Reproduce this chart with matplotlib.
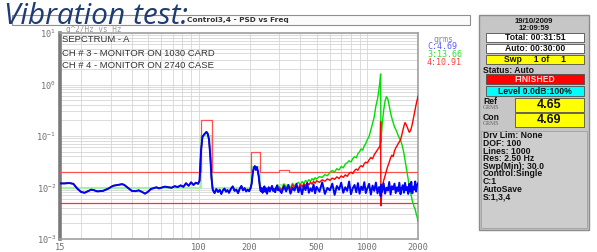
import numpy as np
import matplotlib
matplotlib.use('Agg')
import matplotlib.pyplot as plt
from matplotlib.patches import Rectangle
from matplotlib.ticker import LogLocator, NullFormatter, FixedLocator, FixedFormatter

# PSD readings (g^2/Hz) - all three channels overlap below 300 Hz
freq_low = [15, 16, 17, 18, 19, 20, 21, 22, 23, 24, 25, 27, 29, 31, 33, 35, 36, 38, 40, 42,
            44, 46, 48, 50, 52, 54, 56, 58, 60, 63, 66, 69, 72, 75, 78, 81, 84, 87, 90, 93,
            96, 99, 101, 103, 105, 107, 109, 111, 113, 115, 117, 119, 121, 124, 127, 130, 133, 136, 139, 142,
            145, 148, 151, 155, 159, 163, 167, 171, 175, 179, 183, 187, 191, 195, 199, 203, 206, 209, 212, 215,
            218, 221, 224, 227, 230, 233, 236, 239, 242, 245, 248, 251, 254, 257, 260, 264, 268, 272, 276, 280,
            284, 288, 292, 296]
psd_low = [0.012, 0.012, 0.0122, 0.0118, 0.0095, 0.0082, 0.0079, 0.0085, 0.0091, 0.0088, 0.0084, 0.0086, 0.0095, 0.0108, 0.0112, 0.0116, 0.0113, 0.0098, 0.0086, 0.0085,
           0.0088, 0.0082, 0.0076, 0.0083, 0.0094, 0.0097, 0.0101, 0.0096, 0.0099, 0.0104, 0.0101, 0.0099, 0.0106, 0.0102, 0.0110, 0.0103, 0.0121, 0.0108, 0.0126, 0.0112,
           0.0124, 0.0118, 0.0135, 0.05, 0.095, 0.105, 0.112, 0.12, 0.11, 0.085, 0.04, 0.015, 0.009, 0.0078, 0.0093, 0.0082, 0.0090, 0.0075, 0.0088, 0.0095,
           0.0083, 0.0089, 0.0079, 0.0094, 0.0105, 0.0086, 0.0091, 0.0078, 0.0095, 0.0107, 0.0088, 0.0097, 0.0084, 0.0091, 0.0085, 0.0098, 0.012, 0.019, 0.024, 0.026,
           0.022, 0.025, 0.021, 0.016, 0.011, 0.0085, 0.0098, 0.0079, 0.0093, 0.0105, 0.0083, 0.0096, 0.0076, 0.0089, 0.0101, 0.0084, 0.0095, 0.0107, 0.0086, 0.0093,
           0.0081, 0.0099, 0.0110, 0.0088]

freq_high = [300, 310, 320, 330, 340, 350, 360, 370, 380, 390, 400, 410, 420, 430, 440, 450, 460, 470, 480, 490,
             500, 520, 540, 560, 580, 600, 620, 640, 660, 680, 700, 720, 740, 760, 780, 800, 820, 840, 860, 880,
             900, 920, 940, 960, 980,
             1000, 1025, 1050, 1075, 1100, 1125, 1150, 1175, 1190, 1200, 1205,
             1225, 1250, 1275, 1300, 1325, 1350, 1375, 1400, 1425, 1450, 1475, 1500, 1525, 1550, 1575, 1600,
             1625, 1650, 1675, 1700, 1725, 1750, 1775, 1800, 1825, 1850, 1875, 1900, 1925, 1950, 1975, 2000]
ctrl_high = [0.0091, 0.0078, 0.0105, 0.0084, 0.0112, 0.0076, 0.0098, 0.0087, 0.0118, 0.0081, 0.0102, 0.0074, 0.0109, 0.0089, 0.0121, 0.0079, 0.0096, 0.0085, 0.0114, 0.0077,
             0.0103, 0.0083, 0.0126, 0.0075, 0.0098, 0.0088, 0.0119, 0.0072, 0.0107, 0.0091, 0.0124, 0.0079, 0.0101, 0.0086, 0.0131, 0.0074, 0.0097, 0.0112, 0.0081, 0.0122,
             0.0076, 0.0104, 0.0089, 0.0127, 0.0078,
             0.0095, 0.0118, 0.0073, 0.0109, 0.0086, 0.0125, 0.0077, 0.0102, 0.0091, 0.0068, 0.0114,
             0.0082, 0.0121, 0.0076, 0.0099, 0.0087, 0.0128, 0.0073, 0.0106, 0.0092, 0.0119, 0.0078, 0.0101, 0.0085, 0.0124, 0.0074, 0.0097,
             0.0111, 0.0079, 0.0123, 0.0088, 0.0102, 0.0075, 0.0118, 0.0083, 0.0129, 0.0077, 0.0104, 0.0091, 0.0131, 0.0084, 0.0112, 0.0121]
ch3_high = [0.0105, 0.0092, 0.0118, 0.0101, 0.0112, 0.0098, 0.0121, 0.0107, 0.0118, 0.0126, 0.0112, 0.0131, 0.0119, 0.0137, 0.0128, 0.0142, 0.0131, 0.0149, 0.0138, 0.0155,
            0.0146, 0.0163, 0.0157, 0.0178, 0.0169, 0.0197, 0.0214, 0.0201, 0.0232, 0.0219, 0.0256, 0.0241, 0.0284, 0.0302, 0.0331, 0.0312, 0.0365, 0.0396, 0.0378, 0.0452,
            0.0497, 0.0561, 0.0532, 0.0648, 0.0712,
            0.0845, 0.0986, 0.131, 0.178, 0.236, 0.385, 0.52, 0.84, 1.2, 1.6, 0.075,
            0.16, 0.31, 0.48, 0.58, 0.52, 0.39, 0.28, 0.22, 0.18, 0.15, 0.135, 0.118, 0.102, 0.091, 0.082, 0.071,
            0.058, 0.046, 0.034, 0.026, 0.019, 0.014, 0.0105, 0.0082, 0.0069, 0.0055, 0.0048, 0.0041, 0.0038, 0.0031, 0.0027, 0.0022]
ch4_high = [0.0098, 0.0088, 0.0112, 0.0095, 0.0106, 0.0091, 0.0113, 0.0099, 0.0108, 0.0097, 0.0115, 0.0103, 0.0119, 0.0108, 0.0124, 0.0112, 0.0127, 0.0116, 0.0131, 0.0121,
            0.0135, 0.0126, 0.0141, 0.0132, 0.0147, 0.0138, 0.0152, 0.0144, 0.0161, 0.0149, 0.0168, 0.0157, 0.0176, 0.0165, 0.0187, 0.0198, 0.0186, 0.0214, 0.0228, 0.0216,
            0.0249, 0.0265, 0.0252, 0.0291, 0.0312,
            0.0298, 0.0345, 0.0381, 0.0362, 0.0432, 0.0486, 0.0541, 0.0598, 0.065, 0.19, 0.0044,
            0.0098, 0.0135, 0.0168, 0.0215, 0.0262, 0.0311, 0.0378, 0.0425, 0.0396, 0.0512, 0.0586, 0.0641, 0.0712, 0.0768, 0.0845, 0.102,
            0.128, 0.156, 0.182, 0.168, 0.149, 0.132, 0.118, 0.125, 0.142, 0.171, 0.215, 0.268, 0.331, 0.412, 0.498, 0.59]

# reference profile and abort limits
ref_freq = [15, 103, 103, 120, 120, 205, 205, 232, 232, 300, 300, 345, 345, 2000]
ref_level = [0.01, 0.01, 0.1, 0.1, 0.01, 0.01, 0.025, 0.025, 0.01, 0.01, 0.011, 0.011, 0.01, 0.01]
abort_hi = [0.02, 0.02, 0.2, 0.2, 0.02, 0.02, 0.05, 0.05, 0.02, 0.02, 0.022, 0.022, 0.02, 0.02]
abort_lo = 0.005

x_ticks = [15, 100, 200, 500, 1000, 2000]

legend_rows = [('grms', '#8a8a8a'), ('C:4.69', '#5a5aff'), ('3:13.66', '#33dd33'), ('4:10.91', '#ff4040')]
plot_notes = ['SEPCTRUM - A', 'CH # 3 - MONITOR ON 1030 CARD', 'CH # 4 - MONITOR ON 2740 CASE']
info_lines = ['Drv Lim: None', 'DOF: 100', 'Lines: 1000', 'Res: 2.50 Hz', 'Swp(Min): 30.0',
              'Control:Single', 'C:1', 'AutoSave', 'S:1,3,4']

W, H = 597, 252


def fx(x):
    return x / W


def fy(y):
    return 1 - y / H


fig = plt.figure(figsize=(W / 100, H / 100), dpi=100)
fig.patch.set_facecolor('white')

ax = fig.add_axes([fx(60), fy(239), fx(418) - fx(60), fy(33) - fy(239)])
ax.set_xscale('log')
ax.set_yscale('log')

ax.plot(ref_freq, ref_level, color='#a8f0a8', lw=1.6, zorder=2)
ax.plot(ref_freq, abort_hi, color='#ff5050', lw=0.9, zorder=3)
ax.axhline(abort_lo, color='#ff3030', lw=0.9, zorder=3)

ax.plot(freq_low + freq_high, psd_low + ch3_high, color='#00dd00', lw=1.0, zorder=4)
ax.plot(freq_low + freq_high, psd_low + ch4_high, color='#ff0000', lw=1.0, zorder=5)
ax.plot(freq_low + freq_high, psd_low + ctrl_high, color='#0000ff', lw=1.4, zorder=6)

ax.set_xlim(15, 2000)
ax.set_ylim(1e-3, 1e1)
ax.xaxis.set_major_locator(FixedLocator(x_ticks))
ax.xaxis.set_major_formatter(FixedFormatter([str(v) for v in x_ticks]))
ax.xaxis.set_minor_locator(LogLocator(base=10, subs=np.arange(2, 10)))
ax.xaxis.set_minor_formatter(NullFormatter())
ax.yaxis.set_major_locator(LogLocator(base=10, numticks=10))
ax.yaxis.set_minor_locator(LogLocator(base=10, subs=np.arange(2, 10), numticks=10))
ax.yaxis.set_minor_formatter(NullFormatter())
ax.grid(True, which='both', color='#d6d6d6', lw=0.6, zorder=0)
ax.tick_params(which='both', length=0, labelsize=6.2, colors='#707070', pad=3)
for lbl in ax.get_xticklabels() + ax.get_yticklabels():
    lbl.set_family('DejaVu Sans Mono')
for side in ['top', 'right', 'bottom']:
    ax.spines[side].set_color('#a0a0a0')
    ax.spines[side].set_linewidth(1.2)
ax.spines['left'].set_color('#7a7a7a')
ax.spines['left'].set_linewidth(2.6)

for i, note in enumerate(plot_notes):
    fig.text(fx(62), fy(40 + 13 * i), note, fontsize=6.8, family='Liberation Sans',
             color='#333333', va='center', ha='left')

# window title bar
fig.patches.append(Rectangle((fx(12), fy(25)), fx(470) - fx(12), fy(15) - fy(25),
                             transform=fig.transFigure, facecolor='#fbfbfb',
                             edgecolor='#909090', lw=0.8, zorder=1))
fig.text(fx(187), fy(20), 'Control3,4 - PSD vs Freq', fontsize=5.3, fontweight='bold',
         color='#333333', va='center', ha='left', zorder=2)
fig.text(fx(66), fy(29), 'g^2/Hz vs Hz', fontsize=5.5, family='DejaVu Sans Mono',
         color='#9a9a9a', va='center', ha='left', zorder=2)
fig.text(fx(4), fy(17), 'Vibration test:', fontsize=21.5, style='italic',
         family=['Open Sans', 'DejaVu Sans'], color='#1f3b73', va='center', ha='left', zorder=5)

for i, (txt, col) in enumerate(legend_rows):
    fig.text(fx(427) if i else fx(433), fy(39 + 7.7 * i), txt, fontsize=6, family='DejaVu Sans Mono',
             color=col, va='center', ha='left')

# status panel on the right
def box(x0, y0, x1, y1, fc, ec='#505050', lw=0.6, z=1):
    fig.patches.append(Rectangle((fx(x0), fy(y1)), fx(x1) - fx(x0), fy(y0) - fy(y1),
                                 transform=fig.transFigure, facecolor=fc, edgecolor=ec,
                                 lw=lw, zorder=z))


box(479, 15, 589, 230, '#c6c6c6', ec='#8c8c8c', lw=1.0)
box(481, 131, 587, 228, '#cdcdcd', ec='#a0a0a0', lw=0.6, z=2)

pf = dict(family='Liberation Sans', fontweight='bold', color='#111111', va='center', zorder=4)
fig.text(fx(534), fy(21.5), '19/10/2009', fontsize=5.6, ha='center', **pf)
fig.text(fx(534), fy(28.5), '12:09:59', fontsize=5.6, ha='center', **pf)

box(486, 33, 584, 42, 'white', z=3)
fig.text(fx(535), fy(37.5), 'Total: 00:31:51', fontsize=6.2, ha='center', **pf)
box(486, 44, 584, 53, 'white', z=3)
fig.text(fx(535), fy(48.5), 'Auto: 00:30:00', fontsize=6.2, ha='center', **pf)
box(486, 55, 584, 64, '#ffff00', z=3)
fig.text(fx(535), fy(59.5), 'Swp     1 of     1', fontsize=6.2, ha='center', **pf)
fig.text(fx(483), fy(70.5), 'Status: Auto', fontsize=6.2, ha='left', **pf)
box(486, 74, 584, 84, '#ff0000', z=3)
fig.text(fx(535), fy(79), 'FINISHED', fontsize=6.2, ha='center', family='Liberation Sans',
         fontweight='bold', color='#ffdddd', va='center', zorder=4)
box(486, 86, 584, 96, '#00ffff', z=3)
fig.text(fx(535), fy(91), 'Level 0.0dB:100%', fontsize=6.2, ha='center', **pf)

fig.text(fx(483), fy(101), 'Ref', fontsize=6.2, ha='left', **pf)
fig.text(fx(483), fy(107.5), 'GRMS', fontsize=4.2, ha='left', family='Liberation Serif',
         color='#666666', va='center', zorder=4)
box(515, 98, 584, 112, '#ffff00', z=3)
fig.text(fx(549), fy(105), '4.65', fontsize=9, ha='center', **pf)
fig.text(fx(483), fy(117), 'Con', fontsize=6.2, ha='left', **pf)
fig.text(fx(483), fy(123.5), 'GRMS', fontsize=4.2, ha='left', family='Liberation Serif',
         color='#666666', va='center', zorder=4)
box(515, 113, 584, 127, '#ffff00', z=3)
fig.text(fx(549), fy(120), '4.69', fontsize=9, ha='center', **pf)

for i, line in enumerate(info_lines):
    fig.text(fx(483), fy(136 + 7.6 * i), line, fontsize=6.2, ha='left', **pf)

fig.savefig('out.png', dpi=100)
